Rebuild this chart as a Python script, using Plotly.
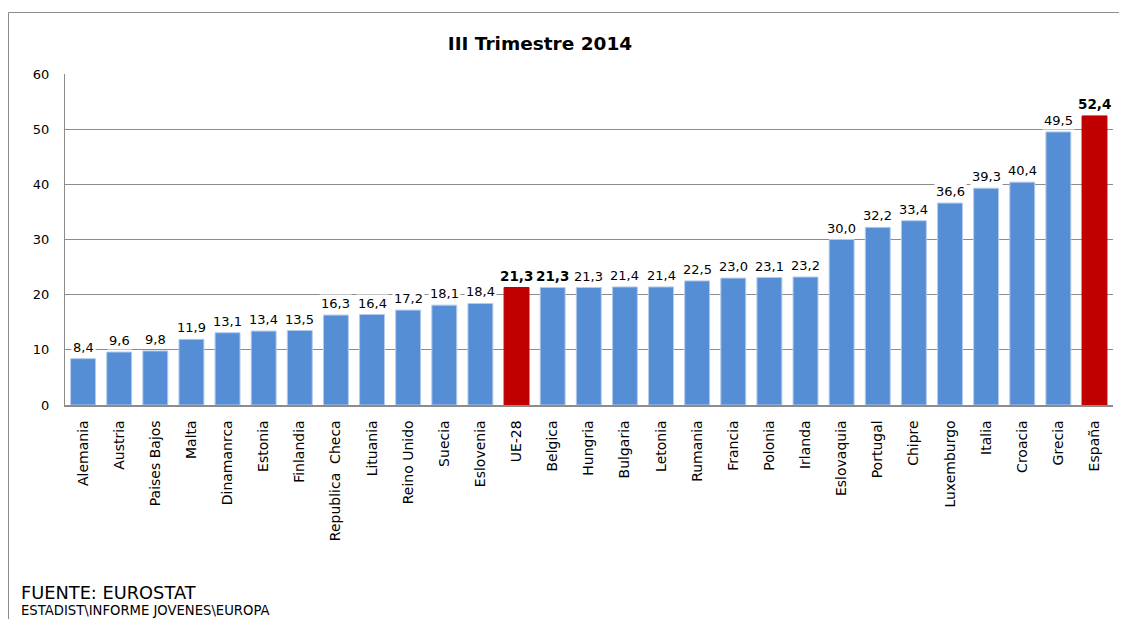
import plotly.graph_objects as go

categories = ["Alemania", "Austria", "Paises Bajos", "Malta", "Dinamanrca", "Estonia",
              "Finlandia", "Republica  Checa", "Lituania", "Reino Unido", "Suecia", "Eslovenia",
              "UE-28", "Belgica", "Hungria", "Bulgaria", "Letonia", "Rumania", "Francia",
              "Polonia", "Irlanda", "Eslovaquia", "Portugal", "Chipre", "Luxemburgo",
              "Italia", "Croacia", "Grecia", "España"]
values = [8.4, 9.6, 9.8, 11.9, 13.1, 13.4, 13.5, 16.3, 16.4, 17.2, 18.1, 18.4,
          21.3, 21.3, 21.3, 21.4, 21.4, 22.5, 23.0, 23.1, 23.2, 30.0, 32.2, 33.4, 36.6,
          39.3, 40.4, 49.5, 52.4]
highlight = ["UE-28", "España"]
bold_labels = ["UE-28", "Belgica", "España"]
yticks = [0, 10, 20, 30, 40, 50, 60]

BLUE = "#558ED5"
RED = "#C00000"
GRID = "#8C8C8C"
FONT = "DejaVu Sans"

# page offset (body margin) compensation
OFF = 8
W, H = 1127 - OFF, 619 - OFF
PL, PR, PT, PB = 65 - OFF, 1113 - OFF, 74 - OFF, 405 - OFF
L, R, T, B = PL, W - PR, PT, H - PB
pw, ph = PR - PL, PB - PT


def px_x(x):
    return (x - OFF - PL) / pw


def px_y(y):
    return (PB - (y - OFF)) / ph


colors = [RED if c in highlight else BLUE for c in categories]
line_colors = ["#C00000" if c in highlight else "#B4CBEA" for c in categories]

fig = go.Figure()
fig.add_trace(go.Bar(
    x=categories, y=values,
    marker=dict(color=colors, line=dict(color=line_colors, width=1)),
    hoverinfo="x+y",
))

annotations = []
for c, v in zip(categories, values):
    txt = f"{v:.1f}".replace(".", ",")
    if c in bold_labels:
        txt = f"<b>{txt}</b>"
        size = 13.5
    else:
        size = 13
    annotations.append(dict(
        x=c, y=v, xref="x", yref="y", text=txt, showarrow=False,
        yanchor="bottom", yshift=2, bgcolor="white", borderpad=1,
        font=dict(family=FONT, size=size, color="black"),
    ))

annotations.append(dict(
    x=px_x(19), y=px_y(592), xref="paper", yref="paper", xanchor="left", yanchor="middle",
    text="FUENTE: EUROSTAT", showarrow=False,
    font=dict(family=FONT, size=17.8, color="black"),
))
annotations.append(dict(
    x=px_x(19), y=px_y(610), xref="paper", yref="paper", xanchor="left", yanchor="middle",
    text="ESTADIST\\INFORME JOVENES\\EUROPA", showarrow=False,
    font=dict(family=FONT, size=13.2, color="black"),
))

shapes = [
    dict(type="line", xref="paper", yref="paper",
         x0=px_x(8.5), x1=px_x(8.5), y0=px_y(12.5), y1=px_y(640),
         line=dict(color="#8C8C8C", width=1)),
    dict(type="line", xref="paper", yref="paper",
         x0=px_x(8.5), x1=px_x(1140), y0=px_y(12.5), y1=px_y(12.5),
         line=dict(color="#8C8C8C", width=1)),
]

fig.update_layout(
    width=W, height=H,
    margin=dict(l=L, r=R, t=T, b=B, autoexpand=False),
    paper_bgcolor="white", plot_bgcolor="white",
    showlegend=False,
    bargap=0.31,
    title=dict(text="<b>III Trimestre 2014</b>", x=(540 - OFF) / W, xanchor="center",
               y=1 - (44 - OFF) / H, yanchor="middle", xref="container", yref="container",
               font=dict(family=FONT, size=18.5, color="black")),
    font=dict(family=FONT, color="black"),
    annotations=annotations,
    shapes=shapes,
    xaxis=dict(
        tickangle=-90, tickfont=dict(family=FONT, size=14, color="black"),
        showline=True, linecolor=GRID, linewidth=1.5, showgrid=False,
        ticks="", ticklabelstandoff=8,
    ),
    yaxis=dict(
        range=[0, 60], tickvals=yticks, ticktext=[str(t) for t in yticks],
        tickfont=dict(family=FONT, size=13, color="black"),
        showline=True, linecolor=GRID, linewidth=1,
        showgrid=True, gridcolor=GRID, gridwidth=1, zeroline=False,
        ticks="", ticklabelstandoff=12,
    ),
)

fig.write_html("out.html")
